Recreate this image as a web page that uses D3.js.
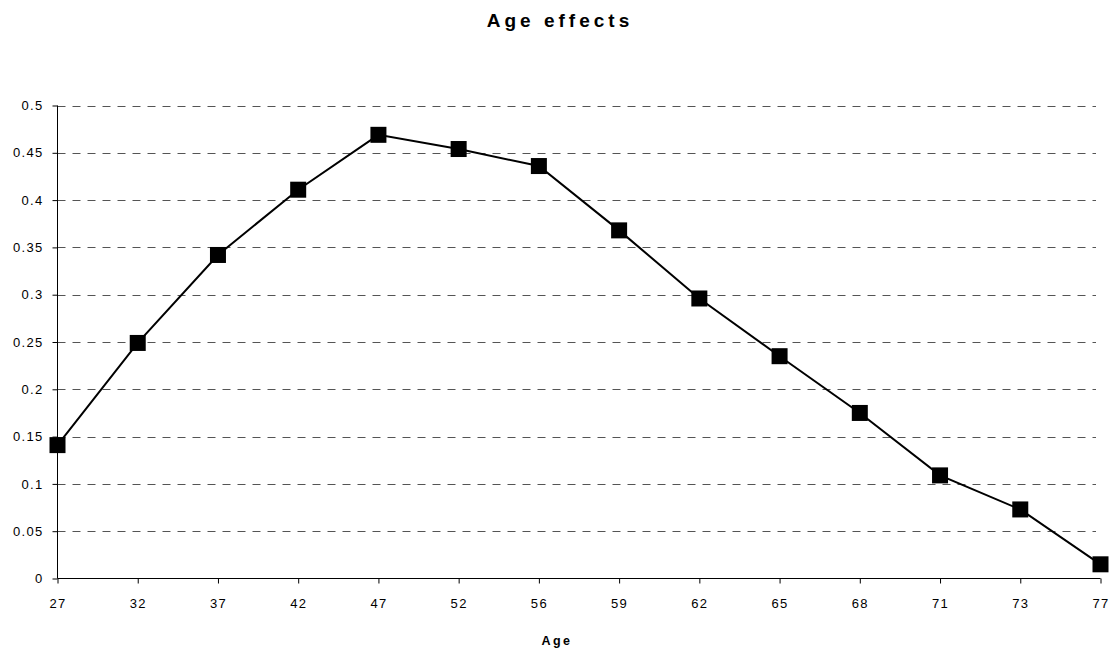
<!DOCTYPE html>
<html>
<head>
<meta charset="utf-8">
<script src="https://cdn.jsdelivr.net/npm/d3@7/dist/d3.min.js"></script>
<style>
  html, body { margin: 0; padding: 0; background: #fff; }
  svg { display: block; font-family: "Liberation Sans", Arial, sans-serif; }
</style>
</head>
<body>
<svg id="chart" width="1113" height="651"></svg>
<script>
const ages = ["27","32","37","42","47","52","56","59","62","65","68","71","73","77"];
const effects = [0.141,0.249,0.342,0.411,0.469,0.454,0.436,0.368,0.296,0.235,0.175,0.109,0.073,0.015];
const yTicks = [0,0.05,0.1,0.15,0.2,0.25,0.3,0.35,0.4,0.45,0.5];
const yTickLabels = ["0","0.05","0.1","0.15","0.2","0.25","0.3","0.35","0.4","0.45","0.5"];
const titleText = "Age effects";
const xTitleText = "Age";

(function () {
const svg = d3.select("#chart");
const pLeft = 57.5, pRight = 1100.5, pTop = 105.5, pBottom = 578.5;

const x = d3.scalePoint().domain(ages).range([pLeft, pRight]);
const y = d3.scaleLinear().domain([0, 0.5]).range([pBottom, pTop]);

// gridlines
svg.append("g").selectAll("line")
  .data(yTicks.filter(d => d > 0))
  .join("line")
  .attr("x1", pLeft).attr("x2", 1096)
  .attr("y1", d => Math.round(y(d)) + 0.5).attr("y2", d => Math.round(y(d)) + 0.5)
  .attr("stroke", "#555").attr("stroke-width", 1)
  .attr("stroke-dasharray", "8,7");

// y axis
const yAxis = d3.axisLeft(y).tickValues(yTicks)
  .tickFormat((d, i) => yTickLabels[i]).tickSize(5).tickPadding(9);
const gy = svg.append("g").attr("transform", `translate(${pLeft},0)`).call(yAxis);
gy.select(".domain").attr("stroke", "#000").attr("d", `M0,${pTop}V${pBottom}`);
gy.selectAll(".tick line").attr("stroke", "#000");
gy.selectAll(".tick text").attr("fill", "#000")
  .style("font-size", "13px").style("letter-spacing", "1.3px")
  .attr("font-family", null);

// x axis
const xAxis = d3.axisBottom(x).tickSize(5).tickPadding(15);
const gx = svg.append("g").attr("transform", `translate(0,${pBottom})`).call(xAxis);
gx.select(".domain").attr("stroke", "#000").attr("d", `M${pLeft},0H${pRight}`);
gx.selectAll(".tick line").attr("stroke", "#000");
gx.selectAll(".tick text").attr("fill", "#000")
  .style("font-size", "13px").style("letter-spacing", "1.3px")
  .attr("font-family", null);

// line
const line = d3.line().x((d, i) => x(ages[i])).y(d => y(d));
svg.append("path").datum(effects)
  .attr("d", line).attr("fill", "none")
  .attr("stroke", "#000").attr("stroke-width", 2);

// markers
const ms = 16;
svg.append("g").selectAll("rect").data(effects).join("rect")
  .attr("x", (d, i) => x(ages[i]) - ms / 2)
  .attr("y", d => y(d) - ms / 2)
  .attr("width", ms).attr("height", ms)
  .attr("fill", "#000");

// title
svg.append("text").attr("x", 560).attr("y", 27)
  .attr("text-anchor", "middle")
  .style("font-size", "19px").style("font-weight", "bold").style("letter-spacing", "4px")
  .text(titleText);

// x axis title
svg.append("text").attr("x", 557).attr("y", 645)
  .attr("text-anchor", "middle")
  .style("font-size", "12.5px").style("font-weight", "bold").style("letter-spacing", "2.5px")
  .text(xTitleText);
})();
</script>
</body>
</html>
